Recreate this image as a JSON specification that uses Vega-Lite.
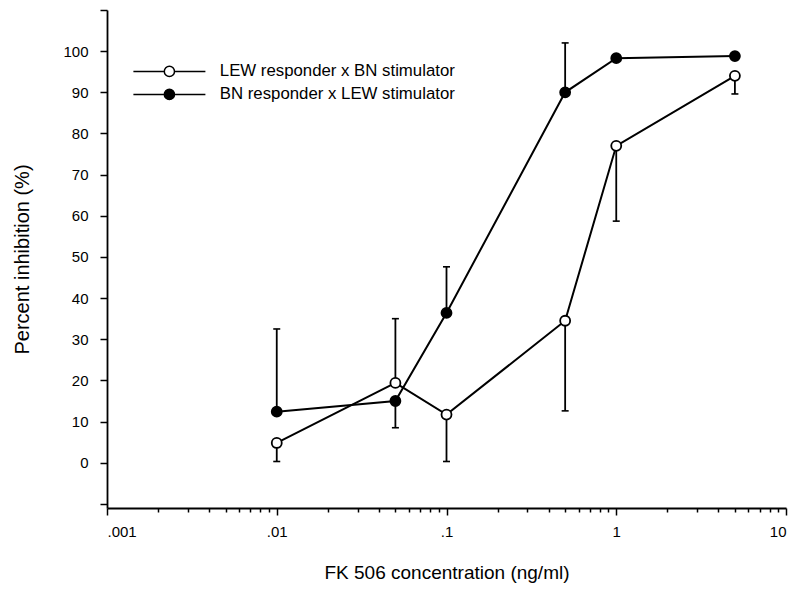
{
  "$schema": "https://vega.github.io/schema/vega-lite/v6.json",
  "width": 679,
  "height": 498,
  "autosize": {"type": "none"},
  "padding": {"left": 107, "top": 10, "right": 14, "bottom": 91},
  "background": "white",
  "config": {
    "view": {"stroke": null},
    "font": "Liberation Sans",
    "axis": {
      "domainColor": "black",
      "domainWidth": 1.8,
      "tickColor": "black",
      "tickWidth": 1.5,
      "grid": false,
      "labelColor": "black",
      "labelFont": "Liberation Sans",
      "labelFontSize": 15,
      "titleColor": "black",
      "titleFont": "Liberation Sans",
      "titleFontWeight": "normal"
    }
  },
  "datasets": {
    "means": [
      {"series": "LEW responder x BN stimulator", "conc": 0.01, "pct": 4.8},
      {"series": "LEW responder x BN stimulator", "conc": 0.05, "pct": 19.4},
      {"series": "LEW responder x BN stimulator", "conc": 0.1, "pct": 11.7},
      {"series": "LEW responder x BN stimulator", "conc": 0.5, "pct": 34.5},
      {"series": "LEW responder x BN stimulator", "conc": 1, "pct": 77},
      {"series": "LEW responder x BN stimulator", "conc": 5, "pct": 94},
      {"series": "BN responder x LEW stimulator", "conc": 0.01, "pct": 12.4},
      {"series": "BN responder x LEW stimulator", "conc": 0.05, "pct": 15},
      {"series": "BN responder x LEW stimulator", "conc": 0.1, "pct": 36.4},
      {"series": "BN responder x LEW stimulator", "conc": 0.5, "pct": 90},
      {"series": "BN responder x LEW stimulator", "conc": 1, "pct": 98.3},
      {"series": "BN responder x LEW stimulator", "conc": 5, "pct": 98.8}
    ],
    "errs": [
      {"series": "LEW responder x BN stimulator", "conc": 0.01, "pct": 4.8, "end": 0.3},
      {"series": "LEW responder x BN stimulator", "conc": 0.05, "pct": 19.4, "end": 35},
      {"series": "LEW responder x BN stimulator", "conc": 0.1, "pct": 11.7, "end": 0.3},
      {"series": "LEW responder x BN stimulator", "conc": 0.5, "pct": 34.5, "end": 12.6},
      {"series": "LEW responder x BN stimulator", "conc": 1, "pct": 77, "end": 58.7},
      {"series": "LEW responder x BN stimulator", "conc": 5, "pct": 94, "end": 89.6},
      {"series": "BN responder x LEW stimulator", "conc": 0.01, "pct": 12.4, "end": 32.5},
      {"series": "BN responder x LEW stimulator", "conc": 0.05, "pct": 15, "end": 8.5},
      {"series": "BN responder x LEW stimulator", "conc": 0.1, "pct": 36.4, "end": 47.6},
      {"series": "BN responder x LEW stimulator", "conc": 0.5, "pct": 90, "end": 102}
    ]
  },
  "layer": [
    {
      "data": {"name": "errs"},
      "mark": {"type": "rule", "color": "black", "strokeWidth": 1.8},
      "encoding": {
        "x": {
          "field": "conc",
          "type": "quantitative",
          "scale": {"type": "log", "domain": [0.001, 10], "nice": false},
          "axis": {
            "title": "FK 506 concentration (ng/ml)",
            "titleFontSize": 19,
            "values": [0.001, 0.002, 0.003, 0.004, 0.005, 0.006, 0.007, 0.008, 0.009, 0.01, 0.02, 0.03, 0.04, 0.05, 0.06, 0.07, 0.08, 0.09, 0.1, 0.2, 0.3, 0.4, 0.5, 0.6, 0.7, 0.8, 0.9, 1, 2, 3, 4, 5, 6, 7, 8, 9, 10],
            "labelExpr": "datum.value == 0.001 ? '.001' : datum.value == 0.01 ? '.01' : datum.value == 0.1 ? '.1' : datum.value == 1 ? '1' : datum.value == 10 ? '10' : ''",
            "tickSize": {"condition": {"test": "datum.value == 0.001 || datum.value == 0.01 || datum.value == 0.1 || datum.value == 1 || datum.value == 10", "value": 7}, "value": 4},
            "labelPadding": 9,
            "labelOverlap": false,
            "titlePadding": 24
          }
        },
        "y": {
          "field": "pct",
          "type": "quantitative",
          "scale": {"domain": [-11, 110], "nice": false, "zero": false},
          "axis": {
            "title": "Percent inhibition (%)",
            "titleFontSize": 20,
            "values": [-10, -5, 0, 5, 10, 15, 20, 25, 30, 35, 40, 45, 50, 55, 60, 65, 70, 75, 80, 85, 90, 95, 100, 105, 110],
            "labelExpr": "datum.value >= 0 && datum.value <= 100 && datum.value % 10 == 0 ? datum.label : ''",
            "tickSize": {"condition": {"test": "datum.value % 10 == 0", "value": 7}, "value": 4},
            "labelPadding": 12,
            "labelOverlap": false,
            "titlePadding": 30
          }
        },
        "y2": {"field": "end"}
      }
    },
    {
      "data": {"name": "errs"},
      "mark": {"type": "tick", "orient": "horizontal", "color": "black", "size": 7, "thickness": 1.6, "opacity": 1},
      "encoding": {
        "x": {"field": "conc", "type": "quantitative"},
        "y": {"field": "end", "type": "quantitative"}
      }
    },
    {
      "data": {"name": "means"},
      "mark": {"type": "line", "color": "black", "strokeWidth": 2},
      "encoding": {
        "x": {"field": "conc", "type": "quantitative"},
        "y": {"field": "pct", "type": "quantitative"},
        "detail": {"field": "series"}
      }
    },
    {
      "data": {"name": "means"},
      "mark": {"type": "point", "shape": "circle", "filled": true, "size": 100, "stroke": "black", "strokeWidth": 1.8, "opacity": 1},
      "encoding": {
        "x": {"field": "conc", "type": "quantitative"},
        "y": {"field": "pct", "type": "quantitative"},
        "fill": {
          "field": "series",
          "type": "nominal",
          "scale": {"domain": ["LEW responder x BN stimulator", "BN responder x LEW stimulator"], "range": ["white", "black"]},
          "legend": {
            "title": null,
            "orient": "none",
            "legendX": 54,
            "legendY": 53,
            "padding": 0,
            "symbolType": "M-6,0H-0.85 A0.85,0.85 0 1,1 0.85,0 A0.85,0.85 0 1,1 -0.85,0 Z M0.85,0H6",
            "symbolSize": 144,
            "symbolStrokeColor": "black",
            "symbolStrokeWidth": 1.5,
            "symbolOpacity": 1,
            "labelFontSize": 16.8,
            "labelColor": "black",
            "labelFont": "Liberation Sans",
            "labelOffset": 42,
            "labelLimit": 400,
            "rowPadding": 5
          }
        }
      }
    }
  ]
}
